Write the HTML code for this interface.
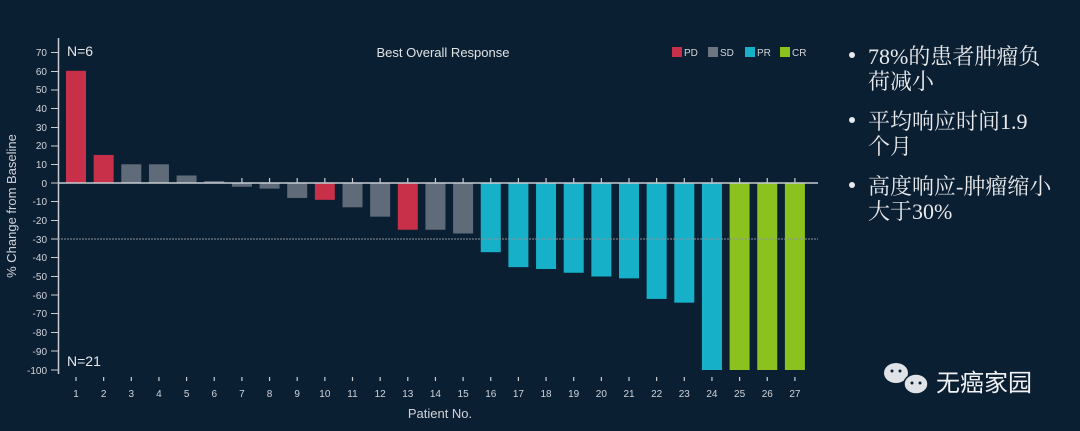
<!DOCTYPE html>
<html><head><meta charset="utf-8"><style>
html,body{margin:0;padding:0;background:#0b1f33;width:1080px;height:431px;overflow:hidden}
</style></head><body>
<svg width="1080" height="431" xmlns="http://www.w3.org/2000/svg" font-family="Liberation Sans, sans-serif">
<rect width="1080" height="431" fill="#0b1f33"/>
<g>
<rect x="66" y="70.8" width="20" height="112.2" fill="#c8304a"/>
<rect x="93.65" y="154.95" width="20" height="28.05" fill="#c8304a"/>
<rect x="121.3" y="164.3" width="20" height="18.7" fill="#5f6b78"/>
<rect x="148.95" y="164.3" width="20" height="18.7" fill="#5f6b78"/>
<rect x="176.6" y="175.5" width="20" height="7.5" fill="#5f6b78"/>
<rect x="204.25" y="181.1" width="20" height="1.9" fill="#5f6b78"/>
<rect x="231.9" y="183" width="20" height="3.74" fill="#5f6b78"/>
<rect x="259.55" y="183" width="20" height="5.61" fill="#5f6b78"/>
<rect x="287.2" y="183" width="20" height="14.96" fill="#5f6b78"/>
<rect x="314.85" y="183" width="20" height="16.83" fill="#c8304a"/>
<rect x="342.5" y="183" width="20" height="24.31" fill="#5f6b78"/>
<rect x="370.15" y="183" width="20" height="33.66" fill="#5f6b78"/>
<rect x="397.8" y="183" width="20" height="46.75" fill="#c8304a"/>
<rect x="425.45" y="183" width="20" height="46.75" fill="#5f6b78"/>
<rect x="453.1" y="183" width="20" height="50.49" fill="#5f6b78"/>
<rect x="480.75" y="183" width="20" height="69.19" fill="#16b0c8"/>
<rect x="508.4" y="183" width="20" height="84.15" fill="#16b0c8"/>
<rect x="536.05" y="183" width="20" height="86.02" fill="#16b0c8"/>
<rect x="563.7" y="183" width="20" height="89.76" fill="#16b0c8"/>
<rect x="591.35" y="183" width="20" height="93.5" fill="#16b0c8"/>
<rect x="619" y="183" width="20" height="95.37" fill="#16b0c8"/>
<rect x="646.65" y="183" width="20" height="115.94" fill="#16b0c8"/>
<rect x="674.3" y="183" width="20" height="119.68" fill="#16b0c8"/>
<rect x="701.95" y="183" width="20" height="187" fill="#16b0c8"/>
<rect x="729.6" y="183" width="20" height="187" fill="#8cc21e"/>
<rect x="757.25" y="183" width="20" height="187" fill="#8cc21e"/>
<rect x="784.9" y="183" width="20" height="187" fill="#8cc21e"/>
</g>
<line x1="58" x2="818" y1="183" y2="183" stroke="#c8ccd2" stroke-width="1.5"/>
<g stroke="#c8ccd2" stroke-width="1.2">
<path d="M76 377v4M103.65 377v4M131.3 377v4M158.95 377v4M186.6 377v4M214.25 377v4M241.9 377v4M269.55 377v4M297.2 377v4M324.85 377v4M352.5 377v4M380.15 377v4M407.8 377v4M435.45 377v4M463.1 377v4M490.75 377v4M518.4 377v4M546.05 377v4M573.7 377v4M601.35 377v4M629 377v4M656.65 377v4M684.3 377v4M711.95 377v4M739.6 377v4M767.25 377v4M794.9 377v4"/>
<path d="M241.9 178v5M269.55 178v5M297.2 178v5M324.85 178v5M352.5 178v5M380.15 178v5M407.8 178v5M435.45 178v5M463.1 178v5M490.75 178v5M518.4 178v5M546.05 178v5M573.7 178v5M601.35 178v5M629 178v5M656.65 178v5M684.3 178v5M711.95 178v5M739.6 178v5M767.25 178v5M794.9 178v5"/>
</g>
<g fill="#d0d4da" font-size="10" text-anchor="middle">
<text x="76" y="397">1</text><text x="103.65" y="397">2</text><text x="131.3" y="397">3</text><text x="158.95" y="397">4</text><text x="186.6" y="397">5</text><text x="214.25" y="397">6</text><text x="241.9" y="397">7</text><text x="269.55" y="397">8</text><text x="297.2" y="397">9</text><text x="324.85" y="397">10</text><text x="352.5" y="397">11</text><text x="380.15" y="397">12</text><text x="407.8" y="397">13</text><text x="435.45" y="397">14</text><text x="463.1" y="397">15</text><text x="490.75" y="397">16</text><text x="518.4" y="397">17</text><text x="546.05" y="397">18</text><text x="573.7" y="397">19</text><text x="601.35" y="397">20</text><text x="629" y="397">21</text><text x="656.65" y="397">22</text><text x="684.3" y="397">23</text><text x="711.95" y="397">24</text><text x="739.6" y="397">25</text><text x="767.25" y="397">26</text><text x="794.9" y="397">27</text>
</g>
<line x1="58.5" y1="38" x2="58.5" y2="374" stroke="#c8ccd2" stroke-width="1.5"/>
<g fill="#d0d4da" font-size="10" text-anchor="end">
<text x="47" y="56">70</text><text x="47" y="75">60</text><text x="47" y="93">50</text><text x="47" y="112">40</text><text x="47" y="131">30</text><text x="47" y="149">20</text><text x="47" y="168">10</text><text x="47" y="187">0</text><text x="47" y="205">-10</text><text x="47" y="224">-20</text><text x="47" y="243">-30</text><text x="47" y="261">-40</text><text x="47" y="280">-50</text><text x="47" y="299">-60</text><text x="47" y="317">-70</text><text x="47" y="336">-80</text><text x="47" y="355">-90</text><text x="47" y="374">-100</text>
</g>
<g stroke="#c8ccd2" stroke-width="1">
<path d="M51 52.5h7M51 71.5h7M51 90h7M51 108.5h7M51 127.5h7M51 146h7M51 164.5h7M51 183h7M51 201.5h7M51 220.5h7M51 239h7M51 257.5h7M51 276.5h7M51 295h7M51 313.5h7M51 332.5h7M51 351h7M51 370h7"/>
</g>
<text transform="translate(16,206) rotate(-90)" fill="#d0d4da" font-size="13" text-anchor="middle">% Change from Baseline</text>
<line x1="58" y1="239" x2="818" y2="239" stroke="#8a949e" stroke-width="1" stroke-dasharray="2,1"/>
<text x="67" y="56" fill="#e6e8ea" font-size="14">N=6</text>
<text x="67" y="366" fill="#e6e8ea" font-size="14">N=21</text>
<text x="443" y="57" fill="#e0e3e6" font-size="13" text-anchor="middle">Best Overall Response</text>
<g font-size="10" fill="#d0d4da">
<rect x="672" y="47" width="10" height="10" fill="#c8304a"/><text x="684" y="56">PD</text>
<rect x="708" y="47" width="10" height="10" fill="#6c7580"/><text x="720" y="56">SD</text>
<rect x="745" y="47" width="10" height="10" fill="#16b0c8"/><text x="757" y="56">PR</text>
<rect x="780" y="47" width="10" height="10" fill="#8cc21e"/><text x="792" y="56">CR</text>
</g>
<text x="440" y="418" fill="#d0d4da" font-size="13" text-anchor="middle">Patient No.</text>
<g fill="#e8eaec" font-family="Liberation Serif, Noto Serif CJK SC, serif" font-size="22">
<circle cx="852" cy="55" r="3"/><text x="868" y="64">78%的患者肿瘤负</text><text x="868" y="89">荷减小</text>
<circle cx="852" cy="120" r="3"/><text x="868" y="129">平均响应时间1.9</text><text x="868" y="154">个月</text>
<circle cx="852" cy="185" r="3"/><text x="868" y="194">高度响应-肿瘤缩小</text><text x="868" y="219">大于30%</text>
</g>
<g>
<ellipse cx="896" cy="373" rx="12" ry="10" fill="#dfe2e6"/>
<ellipse cx="916" cy="384" rx="12" ry="10" fill="#dfe2e6" stroke="#0b1f33" stroke-width="1.5"/>
<circle cx="892" cy="371" r="1.5" fill="#0b1f33"/><circle cx="900" cy="371" r="1.5" fill="#0b1f33"/>
<circle cx="912" cy="383" r="1.5" fill="#0b1f33"/><circle cx="920" cy="383" r="1.5" fill="#0b1f33"/>
<text x="936" y="391" fill="#f0f2f4" font-family="Liberation Sans, Noto Sans CJK SC, sans-serif" font-size="24">无癌家园</text>
</g>
</svg>
</body></html>
